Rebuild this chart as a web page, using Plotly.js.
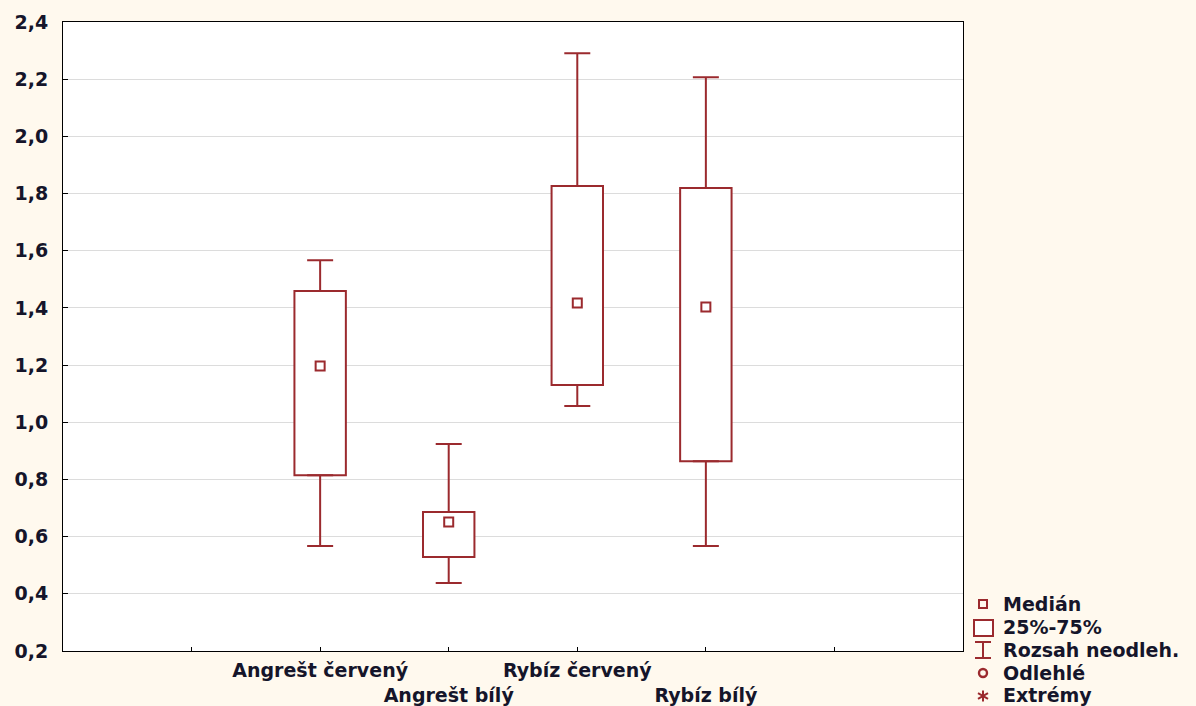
<!DOCTYPE html>
<html>
<head>
<meta charset="utf-8">
<script src="https://cdn.plot.ly/plotly-3.0.1.min.js"></script>
<style>html,body{margin:0;padding:0;background:#FFF9EE;}#chart{width:1196px;height:706px;}</style>
</head>
<body>
<div id="chart"></div>
<script>
// ---- data ----
const categories = ['Angrešt červený', 'Angrešt bílý', 'Rybíz červený', 'Rybíz bílý'];
const categoryPos = [2, 3, 4, 5];
const lowerWhisker = [0.567, 0.438, 1.057, 0.567];
const q1 = [0.815, 0.529, 1.130, 0.864];
const median = [1.197, 0.651, 1.417, 1.403];
const q3 = [1.459, 0.686, 1.826, 1.819];
const upperWhisker = [1.567, 0.924, 2.291, 2.207];
const xTickVals = [1, 2, 3, 4, 5, 6];
const xTickText = ['', 'Angrešt červený', '<br>Angrešt bílý', 'Rybíz červený', '<br>Rybíz bílý', ''];
const legendLabels = ['Medián', '25%-75%', 'Rozsah neodleh.', 'Odlehlé', 'Extrémy'];

// ---- style ----
const RED = '#9b2a2e';
const TXT = '#15152a';
const FONT = 'DejaVu Sans';
const W = 1196, H = 706;
const M = {l: 63, r: 233, t: 22, b: 55};
const PW = W - M.l - M.r, PH = H - M.t - M.b;
const X = px => (px - M.l) / PW;
const Y = py => (H - M.b - py) / PH;

const traces = [
  {
    type: 'bar', x: categoryPos, base: q1,
    y: q3.map((v, i) => v - q1[i]),
    width: 0.4,
    marker: {color: '#ffffff', line: {color: RED, width: 2}},
    hoverinfo: 'skip'
  },
  {
    type: 'scatter', mode: 'markers', x: categoryPos, y: q3,
    marker: {size: 1, opacity: 0},
    error_y: {type: 'data', symmetric: false,
      array: upperWhisker.map((v, i) => v - q3[i]),
      arrayminus: q3.map(() => 0),
      color: RED, thickness: 2, width: 13},
    hoverinfo: 'skip'
  },
  {
    type: 'scatter', mode: 'markers', x: categoryPos, y: q1,
    marker: {size: 1, opacity: 0},
    error_y: {type: 'data', symmetric: false,
      array: q1.map(() => 0),
      arrayminus: q1.map((v, i) => v - lowerWhisker[i]),
      color: RED, thickness: 2, width: 13},
    hoverinfo: 'skip'
  },
  {
    type: 'scatter', mode: 'markers', x: categoryPos, y: median,
    marker: {symbol: 'square-open', size: 9, color: RED, line: {color: RED, width: 2}},
    hoverinfo: 'y'
  }
];

// ---- manual legend ----
const legendY = [604, 627, 650, 673, 695];
const shapes = [];
const annotations = [];
const lx = 983;
shapes.push({type: 'rect', xref: 'paper', yref: 'paper', x0: X(lx - 4), x1: X(lx + 4), y0: Y(legendY[0] + 4), y1: Y(legendY[0] - 4), line: {color: RED, width: 2}});
shapes.push({type: 'rect', xref: 'paper', yref: 'paper', x0: X(974), x1: X(993), y0: Y(legendY[1] + 9), y1: Y(legendY[1] - 7), line: {color: RED, width: 2}, fillcolor: '#ffffff'});
shapes.push({type: 'line', xref: 'paper', yref: 'paper', x0: X(lx), x1: X(lx), y0: Y(legendY[2] - 8), y1: Y(legendY[2] + 8), line: {color: RED, width: 2}});
shapes.push({type: 'line', xref: 'paper', yref: 'paper', x0: X(lx - 8), x1: X(lx + 8), y0: Y(legendY[2] - 8), y1: Y(legendY[2] - 8), line: {color: RED, width: 2}});
shapes.push({type: 'line', xref: 'paper', yref: 'paper', x0: X(lx - 8), x1: X(lx + 8), y0: Y(legendY[2] + 8), y1: Y(legendY[2] + 8), line: {color: RED, width: 2}});
shapes.push({type: 'circle', xref: 'paper', yref: 'paper', x0: X(lx - 4), x1: X(lx + 4), y0: Y(legendY[3] + 4), y1: Y(legendY[3] - 4), line: {color: RED, width: 2.4}});
const ay = legendY[4] + 1;
[[0, 5.5], [5, 2.8], [5, -2.8]].forEach(([dx, dy]) => {
  shapes.push({type: 'line', xref: 'paper', yref: 'paper', x0: X(lx - dx), x1: X(lx + dx), y0: Y(ay - dy), y1: Y(ay + dy), line: {color: RED, width: 2}});
});
legendLabels.forEach((t, i) => {
  annotations.push({xref: 'paper', yref: 'paper', x: X(1001), y: Y(legendY[i]), xanchor: 'left', yanchor: 'middle',
    text: t, showarrow: false, font: {family: FONT, size: 19, color: TXT, weight: 'bold'}});
});

const layout = {
  width: W, height: H,
  margin: {l: M.l, r: M.r, t: M.t, b: M.b, autoexpand: false},
  paper_bgcolor: '#FFF9EE', plot_bgcolor: '#ffffff',
  showlegend: false,
  separators: ',.',
  font: {family: FONT, size: 19, color: TXT, weight: 'bold'},
  bargap: 0,
  xaxis: {
    range: [0, 7], tickmode: 'array', tickvals: xTickVals, ticktext: xTickText,
    tickangle: 0,
    ticks: 'inside', ticklen: 4, tickcolor: '#000', tickwidth: 1,
    showgrid: false, zeroline: false,
    showline: true, mirror: true, linecolor: '#000', linewidth: 1,
    ticklabelstandoff: 2,
    tickfont: {family: FONT, size: 19, color: TXT, weight: 'bold'}
  },
  yaxis: {
    range: [0.2, 2.4], tickmode: 'linear', tick0: 0.2, dtick: 0.2, tickformat: '.1f',
    ticks: 'inside', ticklen: 5, tickcolor: '#000', tickwidth: 1,
    showgrid: true, gridcolor: '#dcdcdc', gridwidth: 1, zeroline: false,
    showline: true, mirror: true, linecolor: '#000', linewidth: 1,
    ticklabelstandoff: 10,
    tickfont: {family: FONT, size: 19, color: TXT, weight: 'bold'}
  },
  shapes: shapes,
  annotations: annotations
};

Plotly.newPlot('chart', traces, layout, {displayModeBar: false, staticPlot: true});
</script>
</body>
</html>
